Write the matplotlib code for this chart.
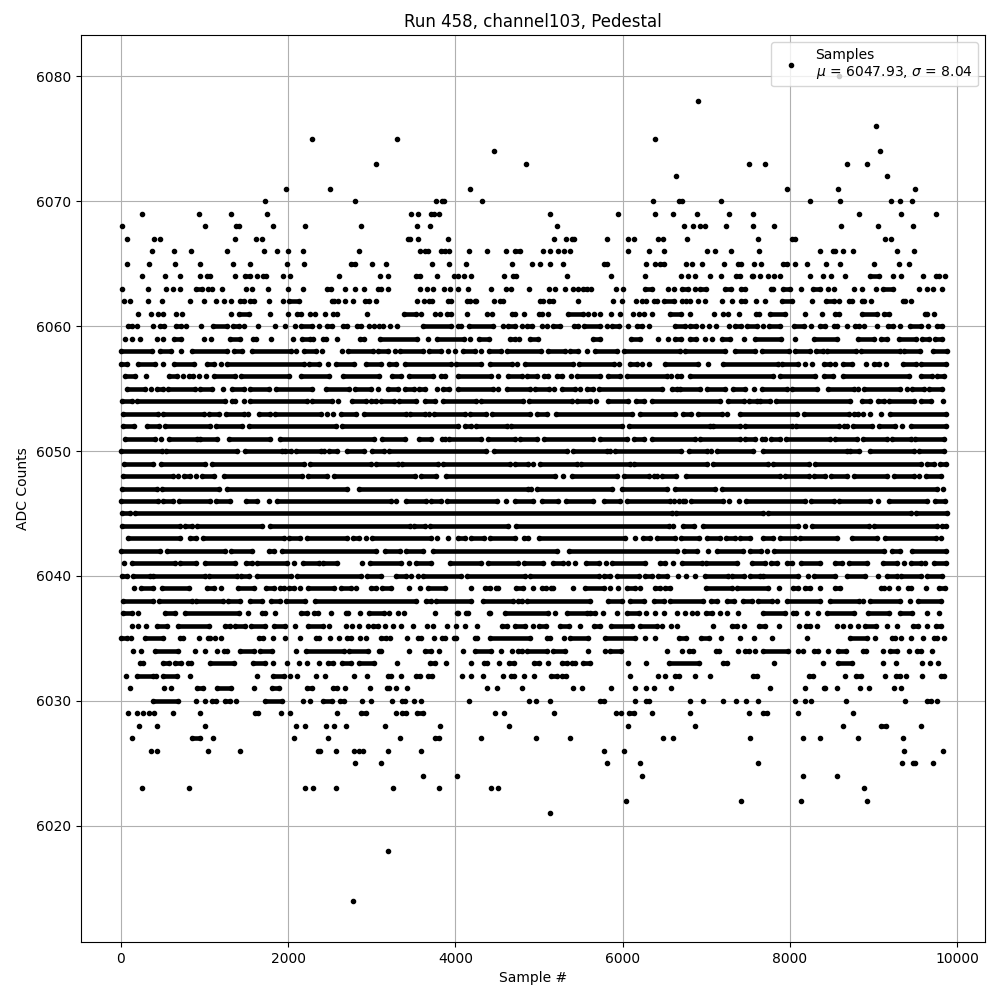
# -*- coding: utf-8 -*-
import matplotlib
matplotlib.use("Agg")
import matplotlib.pyplot as plt

# -------- Data --------
# One list per ADC level. A plain int is one visible dot (sample number),
# a tuple (first, last) is a stretch of dots that overlap into one bar.
adc_6080 = [8584]
adc_6078 = [6904]
adc_6076 = [9028]
adc_6075 = [2284, 3304, 6384]
adc_6074 = [4464, 9076]
adc_6073 = [3052, 4848, 7516, 7708, 8680, 8920]
adc_6072 = [6636, 9160]
adc_6071 = [1972, 2500, 4176, 7972, 8572, 9496]
adc_6070 = [1720, 2800, 3768, (3840, 3864), 4320, 6360, (6676, 6716), 7180, 8236, 8596, 9208, 9316, 9460]
adc_6069 = [256, 928, 1312, 1744, 3468, 3552, (3712, 3744), 3804, 5136, 5940, 6384, 6600, 6892, 7276, 7564, 8824, 9328, 9748]
adc_6068 = [16, 1000, (1380, 1416), 1816, 2200, 2872, 3540, 3696, 5220, 6736, 6844, 6928, 6988, 7240, 7564, 7816, 8608, 9052, 9472]
adc_6067 = [76, 400, 472, 1360, 1612, 1684, (3432, 3460), 3552, 3912, 5184, 5328, (5400, 5424), 5808, 6060, 6132, 6420, 6480,
            6772, 7624, (8024, 8064), 9136, 9208]
adc_6066 = [376, 640, 832, 1264, 1708, 1864, 1996, 2180, 2848, 3576, (3632, 3672), (3832, 3872), 3924, 4164, 4380, 4608,
            (4712, 4772), 5052, 5136, 5232, 5304, 5376, 6060, 6312, 6492, 7012, 7108, 7300, 7636, 8356, (8512, 8544), 8632, 8752, 9284, 9484]
adc_6065 = [76, 340, 652, 940, 1336, 1540, 1984, 2188, (2748, 2800), 3004, 3172, 3720, 3924, 4128, 4680, 4920, 5016, 5136, 5292,
            (5772, 5812), 6276, 6384, (6452, 6492), 6764, 6832, 6952, 7212, (7384, 7420), 7576, 7660, (7924, 7972), 8068, 8200, 8428, 8596, 9012, 9304, 9424]
adc_6064 = [256, 532, 712, 940, (1028, 1060), 1360, (1488, 1540), 1624, (1696, 1740), 1936, 2020, 2608, 3100, 3196, (3532, 3572), 3780,
            3984, 4032, 4104, 4188, 4584, (4692, 4724), 5340, 5856, 6264, 6700, 6784, 6868, 7048, 7180, (7352, 7404), (7544, 7564), 7648,
            7744, 7816, 7888, 8236, 8392, 8488, 8656, (8956, 9064), 9232, 9328, 9592, (9744, 9784), 9852]
adc_6063 = [16, 328, 536, 628, 712, (900, 968), 1036, 1088, 1208, 1492, 1572, 1756, 1996, 2176, (2468, 2508), 2680, 2800, 2908, (3076, 3116),
            3196, 3576, 3664, 3732, 3864, 3932, 4032, 4152, 4428, 4608, 4668, 4884, 5124, 5196, 5316, 5412, 5472, (5532, 5572), 5628, 5916, 6000,
            (6272, 6352), 6540, 6612, (6716, 6784), 6864, (6932, 6996), (7224, 7292), (7412, 7464), (7772, 7804), (7916, 8004), 8140, (8276, 8364),
            8452, 8524, 8764, 8860, 9028, (9116, 9236), 9544, 9636, 9712, 9820]
adc_6062 = [40, 112, 328, 496, 820, 988, 1132, 1236, 1312, (1420, 1468), (1540, 1588), 1768, 1936, (2008, 2128), (2520, 2548), 2596, 2680, 2772,
            (2920, 2968), 3052, 3540, 3624, (3684, 3724), (3912, 3952), (4144, 4172), (4232, 4252), 4464, (4532, 4564), (5012, 5052), (5124, 5164), 5472,
            5880, 5988, 6164, 6232, 6280, (6372, 6412), (6500, 6612), 6712, 6764, 6812, 6904, 6984, 7192, 7304, (7416, 7464), 7600, 7708, (7904, 8024),
            8260, (8436, 8524), 8584, (8704, 8744), (8864, 8892), 8968, (9352, 9384), 9452]
adc_6061 = [208, 364, 448, 508, 660, 736, 1312, (1408, 1528), 1780, 1996, (2100, 2148), 2256, 2316, 2440, 2536, 2588, 2948, (3380, 3524), 3588, 3752, 3812,
            (3900, 3952), 4140, 4380, 4440, (4680, 4712), 4824, (5004, 5040), 5112, (5352, 5532), 5592, 5664, 5724, 5856, 5964, 6120, 6192, 6260, 6356, (6572, 6704),
            6808, 7096, 7196, 7264, 7392, (7596, 7636), (7764, 7944), 8176, 8384, (8544, 8584), (8864, 9044), (9124, 9184), (9612, 9644), 9724]
adc_6060 = [(88, 128), 196, 388, (468, 520), (656, 716), 772, 952, (1100, 1268), (1340, 1408), 1468, 1644, 1840, 1960, 2080, (2148, 2280), 2368, (2468, 2528),
            (2660, 2700), (2828, 2868), 2968, 3028, 3088, 3140, 3220, 3300, (3612, 3952), (4032, 4072), (4164, 4452), 4564, (4632, 4712), 4792, (4860, 4912), 5032,
            5092, (5172, 5252), (5424, 5472), (5544, 5732), 5812, (5872, 5952), 6060, (6172, 6232), 6312, (6632, 6744), (6812, 6876), 6952, 7036, 7112, 7276, (7344, 7416),
            (7492, 7612), 7684, (7756, 7884), (8052, 8172), 8252, (8356, 8424), (8524, 8564), 8680, (8784, 8824), 8884, 9048, (9176, 9236), 9316, (9436, 9572), 9652, (9764, 9824)]
adc_6059 = [48, 128, 228, 436, 508, (636, 716), 988, 1080, (1300, 1420), (1576, 1610), 1792, 2060, (2168, 2260), 2300, (2416, 2448), 2588, (2856, 2908), (3100, 3540),
            3672, (3784, 4100), 4172, (4284, 4404), (4652, 4712), 4764, (4892, 4992), (5652, 5724), (6100, 6212), 6420, 6540, (6632, 6696), (6804, 6876), 6984, 7064, (7192, 7284),
            7456, (7584, 7892), 8068, (8284, 8564), (8812, 9004), (9092, 9164), (9304, 9504), (9584, 9664), (9732, 9824)]
adc_6058 = [(0, 370), (468, 596), 716, (850, 1270), (1356, 1450), (1570, 2030), 2092, (2188, 2330), 2408, 2640, (2716, 3010), (3076, 3196), 3275, (3340, 3612), (3684, 3832), 3912, 4000,
            (4092, 4232), 4308, (4404, 4540), (4620, 5020), (5112, 5312), (5372, 5472), 5572, (5672, 5932), (6012, 6684), (6744, 7224), (7344, 7584), (7664, 7992), (8064, 8244), (8312, 8392),
            (8444, 8796), (8856, 9324), (9364, 9556), (9716, 9876)]
adc_6057 = [(0, 68), (208, 408), 508, (636, 868), (1028, 1116), 1196, (1268, 2188), (2252, 2368), 2480, (2568, 2788), (2928, 3116), (3208, 3288), (3392, 3952), (4012, 4312), (4412, 4672), 4732,
            (4832, 5412), (5484, 5892), 5952, (6084, 6172), 6232, 6312, (6512, 6904), 7016, (7196, 7864), (7904, 8104), 8176, 8264, (8412, 8476), 8536, (8636, 8744), 8908, (9004, 9064), 9152,
            (9356, 9504), (9564, 9864)]
adc_6056 = [(48, 168), 296, (580, 668), 740, (816, 860), 928, 1020, (1108, 1368), (1436, 2008), (2148, 2488), (2656, 3088), (3240, 3352), (3444, 3732), (3832, 3872), (4032, 4432), 4512, (4632, 4792),
            (4852, 4972), (5060, 5112), (5212, 5272), 5380, (5452, 5732), (5820, 5972), (6052, 6532), 6580, (6652, 6704), (6804, 7804), (7884, 8304), (8404, 8516), (8636, 9424), (9564, 9704), (9764, 9844)]
adc_6055 = [(76, 288), 356, (428, 500), (568, 888), (948, 1088), 1224, (1328, 1468), (1548, 1768), (1852, 2288), (2448, 2728), (2800, 2988), 3076, (3196, 3312), (3392, 3500), (3564, 3632), 3780,
            (3852, 3924), (4032, 4452), 4512, (4612, 4892), (4952, 5124), 5180, (5272, 5432), 5492, (5580, 5652), (5712, 6472), (6592, 6652), (6684, 6932), (7004, 7224), (7316, 7464), 7576, (7664, 7964),
            (8024, 8324), (8452, 8764), 8812, (8892, 9324), 9404, (9464, 9604), (9664, 9824)]
adc_6054 = [(16, 128), (196, 1248), (1328, 1368), 1468, (1548, 2228), (2288, 2528), 2596, (2768, 2928), (2988, 3048), (3116, 3268), (3324, 3532), (3632, 3752), (3852, 4252), (4312, 4812), (4884, 5392),
            (5460, 5612), 5680, (5820, 6060), (6164, 6252), (6352, 7164), (7264, 7452), (7516, 7604), (7644, 7764), (7836, 8724), (8864, 8964), (9052, 9124), (9184, 9484), (9564, 9684), 9832]
adc_6053 = [(20, 448), (508, 988), (1048, 1168), (1260, 1468), 1516, (1648, 1788), (1848, 2388), 2468, 2540, (2636, 2808), (2908, 3412), (3460, 3632), 3684, (3740, 4112), (4172, 4372), (4444, 4892), (4972, 5092),
            (5204, 6112), (6212, 6624), (6724, 6824), (6904, 7184), 7252, (7404, 8084), (8172, 8704), (8764, 8812), 8872, 8956, 9092, (9196, 9864)]
adc_6052 = [(28, 156), (316, 460), (528, 1060), (1140, 1448), (1528, 2568), (2648, 4032), (4112, 4192), (4252, 4612), (4660, 5992), (6072, 7044), (7084, 7404), (7464, 8024), (8076, 8584), (8644, 8684), (8756, 8984),
            (9064, 9264), 9344, (9444, 9864)]
adc_6051 = [(48, 408), 480, (580, 908), (948, 1148), (1288, 1788), (1908, 3028), (3128, 3392), (3564, 3712), (3840, 3872), (3924, 4312), (4392, 4712), (4772, 4972), (5060, 5652), (5732, 6052), (6132, 6252), (6352, 6864),
            (6932, 7404), (7464, 7584), (7664, 7704), (7772, 7884), (7956, 8484), (8544, 8804), (8876, 9164), (9224, 9444), (9492, 9844)]
adc_6050 = [(0, 488), (540, 1388), (1488, 1928), (1968, 2028), (2088, 2388), 2428, (2488, 2588), (2708, 2908), (3008, 3148), (3208, 4372), (4460, 5332), (5412, 5812), 5844, (5912, 6704), (6796, 7004), 7056, (7124, 7564),
            (7684, 8684), (8724, 8824), (8964, 9484), (9544, 9844)]
adc_6049 = [(36, 388), (476, 1008), (1088, 2188), (2256, 2988), (3048, 3308), (3364, 3792), (3852, 4652), (4712, 4872), 4932, (5012, 5452), (5500, 6092), (6140, 7004), (7076, 7744), (7804, 8224), (8304, 9564), (9644, 9724), (9796, 9864)]
adc_6048 = [(28, 628), 688, (756, 828), 896, (968, 1116), (1236, 2168), (2236, 2468), (2548, 3512), (3592, 3772), (3884, 5192), 5292, (5392, 5932), (6020, 6312), (6372, 6412), (6472, 6636), (6764, 7884), (7944, 8224), (8284, 8424),
            (8492, 8684), (8764, 9164), (9244, 9484), 9544, (9624, 9804)]
adc_6047 = [(8, 428), (488, 1168), (1268, 2708), (2848, 4872), 4900, (4972, 5872), (5992, 6532), (6632, 7104), (7184, 9764), 9832]
adc_6046 = [(0, 448), (500, 628), (700, 1068), (1140, 1308), (1500, 1628), 1768, (1868, 3228), 3288, (3404, 3652), (3712, 3832), (3900, 4492), 4604, (4712, 4932), (5040, 5232), (5320, 5652), (5772, 5972), (6052, 6572), 6612, 6672, (6720, 6744),
            (6824, 7204), 7276, 7396, (7476, 8184), (8252, 8524), (8584, 8964), 9052, (9184, 9636), (9732, 9852)]
adc_6045 = [(16, 108), (168, 6592), (6636, 7684), (7736, 9444), (9504, 9876)]
adc_6044 = [(16, 708), (768, 848), (908, 1688), (1780, 3452), (3500, 3632), (3692, 4632), (4724, 6552), 6604, (6724, 6852), (6964, 8104), 8176, (8264, 8944), (9004, 9764), (9824, 9864)]
adc_6043 = [(88, 708), (828, 900), (980, 1948), (2008, 2140), (2228, 2700), (2780, 2848), 2928, (3008, 3712), 3780, 3912, (4032, 4112), (4192, 4344), (4412, 4712), (4820, 4872), (5000, 6032), 6144, (6240, 6332), (6412, 6632), (6704, 6916),
            (7004, 7164), (7236, 7344), (7404, 7524), (7676, 7804), (7884, 8064), (8124, 8564), (8744, 9044), (9144, 9744), 9804]
adc_6042 = [(0, 468), (556, 1248), (1316, 1568), (1768, 1828), (1928, 3048), (3156, 3332), (3404, 3612), (3732, 5212), (5364, 6652), (6732, 6892), 7024, (7124, 7444), (7524, 7652), 7732, (7812, 9124), (9224, 9324), (9464, 9864)]
adc_6041 = [40, (128, 648), (708, 900), (1008, 1368), (1500, 1568), (1628, 1988), 2068, (2180, 2368), (2416, 2588), 2888, (2980, 3352), 3440, (3532, 3712), (3940, 4312), (4392, 4752), (4820, 5052), (5164, 5292), 5344, 5436, (5560, 5712), 5800,
            (5872, 6272), (6452, 6512), 6608, (6712, 6944), (6996, 7364), (7544, 7704), (7772, 7852), (7964, 8024), (8132, 8364), (8544, 8624), (8704, 8924), (9112, 9284), 9364, (9444, 9564), 9616, (9724, 9864)]
adc_6040 = [(8, 68), (140, 348), (388, 1008), (1048, 1388), (1436, 1528), (1628, 2028), (2108, 2868), (2948, 3116), (3288, 3412), 3472, 3552, (3612, 4072), (4140, 4832), (4892, 5712), (5772, 5852), (5932, 6192), (6272, 6352), (6420, 6532), 6664,
            6764, 6864, (6984, 7264), (7312, 7452), (7524, 7644), (7684, 8104), 8212, (8284, 8544), (8684, 8904), 9052, (9164, 9284), (9332, 9564), (9644, 9824)]
adc_6039 = [160, (240, 388), (488, 808), (1028, 1108), 1196, (1396, 1596), (1740, 1828), (1908, 1948), (2008, 2068), 2140, (2236, 2548), (2628, 2748), 2808, (2988, 3048), (3128, 3228), 3444, 3580, (3672, 3872), 4184, (4352, 4412), (4484, 4512),
            (4724, 4812), 4932, (5032, 5084), (5140, 5172), 5412, (5552, 5772), 5844, 5944, (6052, 6152), 6212, (6392, 6452), (6512, 6572), (6996, 7304), (7364, 7744), 7876, (8036, 8104), (8184, 8244), 8364, (8544, 8604), (9092, 9124), 9184, 9296, (9412, 9452),
            9632, (9784, 9852)]
adc_6038 = [(20, 388), (460, 848), (896, 1224), (1276, 1428), (1548, 1688), (1796, 1908), (1980, 2200), (2320, 3524), (3644, 3712), (3772, 4192), (4332, 4692), (4752, 4792), (4860, 5612), (5824, 5992), (6092, 6252), (6372, 6492), (6564, 6964),
            (7052, 7124), (7252, 7332), (7444, 7544), (7624, 7784), 7852, (7964, 8364), (8484, 8824), 8872, (8956, 9324), 9432, (9532, 9804)]
adc_6037 = [(20, 128), 208, (528, 648), (768, 1408), 1520, (1688, 1728), 1840, (2156, 2228), (2308, 2356), 2508, (2688, 2716), 2860, (2968, 3148), 3208, 3316, 3384, 3752, (4020, 4032), (4124, 4152), (4404, 4420), (4592, 5112), 5192, (5332, 5572),
            (5612, 5672), 5760, 5932, (6052, 6192), 6284, 6384, 6492, 6652, 6752, 6832, 6892, (6996, 7064), 7164, 7252, 7384, (7684, 7944), (8036, 8076), 8204, 8332, (8444, 8764), (8932, 9184), (9324, 9464), 9644, 9784]
adc_6036 = [128, 208, 296, (436, 556), (688, 1048), (1248, 1308), (1368, 1488), (1556, 1728), (1828, 1968), 2080, (2236, 2416), 2488, 2696, 2768, 2848, 2956, (3016, 3076), 3156, 3248, 3352, 3492, 3660, 3732, 3900, 4008, 4116, 4260, (4552, 4612),
            (4712, 4832), 4924, (5000, 5080), (5252, 5364), 5496, (5664, 5732), (5860, 6112), (6212, 6412), 6472, 6576, 6648, 7084, (7312, 7364), 7452, (7636, 7704), 7876, 8116, (8192, 8244), 8324, 8564, 8632, 8716, 8812, (8896, 9036), 9164, 9284, (9472, 9536),
            9640, (9744, 9804)]
adc_6035 = [(0, 76), 124, (288, 508), (708, 748), 928, (1036, 1068), 1120, 1192, (1656, 1696), 1820, 1960, 2140, (2328, 2368), 2500, 2608, (2708, 2748), 2860, 2932, (3116, 3168), 3220, 3420, (3552, 3584), 3740, (3844, 3872), (3980, 4012), (4232, 4260),
            (4412, 4892), (5092, 5132), 5304, (5372, 5592), (5792, 6152), 6264, 6384, (6676, 6764), (6936, 7036), 7180, 7408, 7576, 7792, 8200, (8724, 8924), 9016, (9224, 9264), 9328, 9448, 9592, (9724, 9756), 9844]
adc_6034 = [148, 244, (412, 688), 880, 1008, 1144, (1228, 1268), (1420, 1588), (1668, 1804), 2092, (2216, 2668), (2728, 2956), (3088, 3116), 3444, (3636, 3712), 3804, 4088, (4236, 4432), 4548, 4680, (4752, 4792), (4860, 5092), (5172, 5312), 5592, 5784,
            (5844, 5980), 6528, 6712, (6796, 6844), (7116, 7156), 7384, (7464, 7516), 7588, (7684, 7984), 8104, 8164, (8292, 8332), 8452, (8572, 8676), (8876, 8916), 9112, (9204, 9284), 9424, (9516, 9572), 9700]
adc_6033 = [(228, 268), (508, 580), (648, 716), (796, 840), (1068, 1348), (1580, 1728), 1816, 1984, 2128, 2224, 2368, (2476, 2540), (2648, 2756), (2848, 3028), 3300, (3700, 3752), 3888, 4188, (4344, 4380), 4524, (4644, 4700), (4944, 5000), 5112, (5280, 5332),
            (5400, 5432), (5532, 5612), 6060, 6276, (6552, 6916), (7204, 7252), 7816, 8392, (8572, 8744), 9112, 9268, 9580, 9676, 9772]
adc_6032 = [64, (188, 388), 424, (508, 668), 820, 1632, (1816, 1948), 2020, 2104, 2332, 2440, 2788, 2944, (3196, 3228), 3344, (3532, 3580), (3672, 3724), 4080, 4188, 4332, 4572, (4660, 4704), 4824, 4944, (5148, 5212), (5280, 5320), 6084, 6420, 6504, (6624, 6672),
            6868, 7048, (7564, 7612), (8224, 8276), 8656, (8788, 8848), 9136, (9276, 9316), 9388, 9580, (9804, 9844)]
adc_6031 = [112, 520, 604, (904, 980), (1144, 1312), 1588, (1804, 1888), (2228, 2288), (2536, 2588), 2680, 2980, (3180, 3208), 3284, 3420, 4380, 4492, 4800, 5412, 5520, 5856, 6144, 6276, 6372, 6574, 7768, 8176, (8404, 8416), 8560, 8836, 8944, 9244, 9328]
adc_6030 = [(388, 688), 892, 1000, (1088, 1132), (1240, 1300), 1372, (1720, 1928), 2176, 2260, (2416, 2528), (2620, 2668), 2880, 2992, 3236, (3360, 3396), 3504, 3588, 4164, 4884, 4968, 5136, (5732, 5772), 6144, (6276, 6312), 6808, 6964, 7204, 7360, 7480, 7624,
            8068, 8176, 8248, 8668, 9376, (9640, 9688), 9760]
adc_6029 = [88, 196, 268, 340, 400, 628, 940, (1608, 1636), 1912, 2020, 2584, (2876, 2932), 3284, (3360, 3412), (3540, 3612), 4476, 4584, 5184, 5916, 5976, (6072, 6132), 6348, 6808, 7516, (7684, 7724), 8104, 8752]
adc_6028 = [220, 436, 1000, 2092, 2200, 2452, 2548, 2692, 3160, 3816, 4644, 6060, 6868, 8632, (9088, 9148), 9568]
adc_6027 = [136, (844, 940), 1096, 2068, 2476, 3338, (3756, 3804), 4308, 4968, 5376, 6480, 6608, 7528, 8164, 8356, 8812, 9352]
adc_6026 = [364, 436, 1036, 1420, (2356, 2380), 2572, 2788, 2848, 2896, 3196, 3588, 5772, 6012, 9364, 9832]
adc_6025 = [2800, 3112, 5808, 6204, 7624, 9340, (9472, 9496), 9712]
adc_6024 = [3612, 4020, 6228, 8164, 8560]
adc_6023 = [256, 808, 2200, 2296, 2572, 3250, 3804, 4428, 4512, 8884]
adc_6022 = [6036, 7420, 8140, 8920]
adc_6021 = [5136]
adc_6018 = [3196]
adc_6014 = [2776]

levels = [6080, 6078, 6076, 6075, 6074, 6073, 6072, 6071, 6070, 6069, 6068, 6067, 6066, 6065, 6064, 6063, 6062, 6061, 6060,
          6059, 6058, 6057, 6056, 6055, 6054, 6053, 6052, 6051, 6050, 6049, 6048, 6047, 6046, 6045, 6044, 6043, 6042, 6041, 6040,
          6039, 6038, 6037, 6036, 6035, 6034, 6033, 6032, 6031, 6030, 6029, 6028, 6027, 6026, 6025, 6024, 6023, 6022, 6021, 6018, 6014]
mean_adc = 6047.93
std_adc = 8.04

# -------- Split dots and overlapping stretches --------
xs, ys = [], []
run_y, run_start, run_end = [], [], []
for level in levels:
    for item in globals()[f"adc_{level}"]:
        if isinstance(item, tuple):
            run_y.append(level)
            run_start.append(item[0])
            run_end.append(item[1])
            xs.extend(item)
            ys.extend([level, level])
        else:
            xs.append(item)
            ys.append(level)

# -------- Plot --------
fig, ax = plt.subplots(figsize=(10, 10))
ax.hlines(run_y, run_start, run_end, color='k', linewidth=3.3, zorder=2)
ax.plot(xs, ys, 'k.', label=f'Samples\n$\\mu$ = {mean_adc:.2f}, $\\sigma$ = {std_adc:.2f}')
ax.set_title('Run 458, channel103, Pedestal')
ax.set_xlabel('Sample #')
ax.set_ylabel('ADC Counts')
ax.set_xlim(-478, 10335)
ax.legend(loc='upper right')
ax.grid(True)
fig.subplots_adjust(left=0.081, right=0.985, top=0.965, bottom=0.058)
fig.savefig('out.png', dpi=100)
